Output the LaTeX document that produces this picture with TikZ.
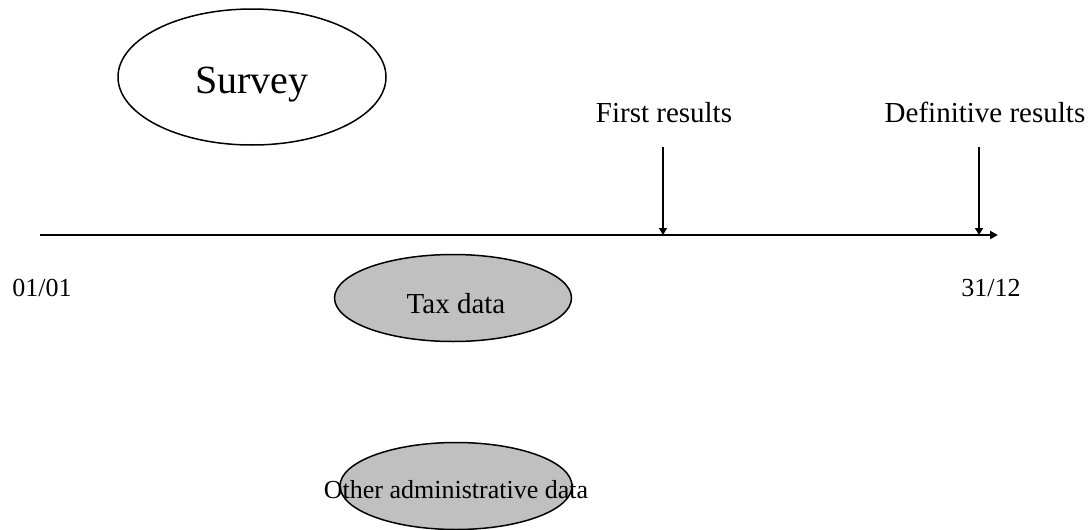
\documentclass[tikz,border=0pt]{standalone}
\usepackage{fontspec}
\setmainfont{Liberation Serif}
\usetikzlibrary{arrows.meta,shapes.geometric}
\definecolor{ovalgray}{HTML}{C0C0C0}
\definecolor{inkc}{HTML}{000000}

\begin{document}
\begin{tikzpicture}[
  x=0.5pt, y=-0.5pt,
  oval/.style={
    ellipse,
    draw=inkc,
    line width=0.75pt,
    inner sep=0pt,
    minimum width=#1
  },
  whiteoval/.style={
    oval=134pt,
    minimum height=68pt,
    fill=white
  },
  grayoval/.style={
    oval=#1,
    minimum height=43.5pt,
    fill=ovalgray
  },
  axis/.style={
    -{Triangle[length=4pt,width=4pt]},
    line width=1pt,
    draw=inkc
  },
  arr/.style={
    -{Triangle[length=3.5pt,width=4pt]},
    line width=0.75pt,
    draw=inkc
  },
  big/.style={
    anchor=base,
    inner sep=0pt,
    font=\fontsize{20}{22}\selectfont
  },
  lbl/.style={
    anchor=base,
    inner sep=0pt,
    font=\fontsize{14.5}{16}\selectfont
  },
  small/.style={
    anchor=base,
    inner sep=0pt,
    font=\fontsize{13}{15}\selectfont
  }
]
\useasboundingbox (0,0) rectangle (1088,530);

% --- time axis ---
\coordinate (jan) at (40,235);
\coordinate (dec) at (998,235);
\draw[axis] (jan) -- (dec);

\node[small] (startdate) at (42,296) {01/01};
\node[small] (enddate) at (991,296) {31/12};

% --- survey ---
\node[whiteoval] (survey) at (252,77) {};
\node[big] (surveytext) at (252,93) {Survey};

% --- results ---
\node[lbl] (first) at (664,122) {First results};
\coordinate (firsttop) at (663,147);
\coordinate (firstmark) at (663,235);
\draw[arr] (firsttop) -- (firstmark);

\node[lbl] (definitive) at (985,122) {Definitive results};
\coordinate (deftop) at (979,147);
\coordinate (defmark) at (979,235);
\draw[arr] (deftop) -- (defmark);

% --- administrative sources ---
\node[grayoval=118.5pt] (tax) at (453,298) {};
\node[lbl] (taxtext) at (456,313) {Tax data};

\node[grayoval=116pt] (admin) at (456,486) {};
\node[small] (admintext) at (456,498) {Other administrative data};

\end{tikzpicture}
\end{document}
